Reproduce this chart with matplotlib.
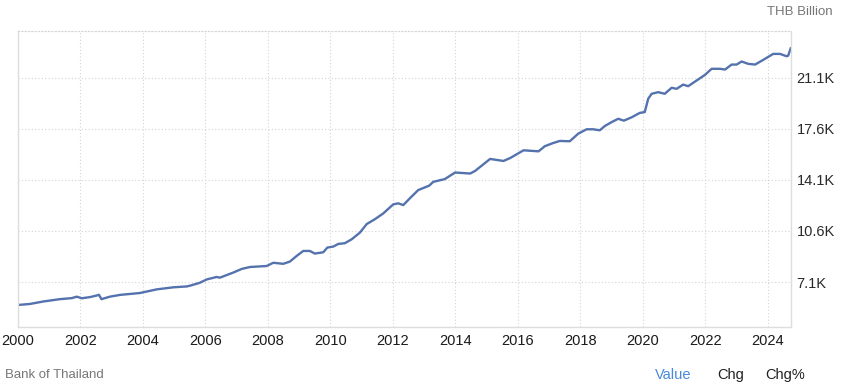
import numpy as np
import matplotlib.pyplot as plt

plt.rcParams['font.family'] = ['Liberation Sans', 'DejaVu Sans']

# values (decimal year, THB billion)
years = [2000.00, 2000.39, 2000.82, 2001.35, 2001.73, 2001.89, 2002.05, 2002.31,
         2002.53, 2002.60, 2002.68, 2002.95, 2003.27, 2003.91, 2004.45, 2004.98,
         2005.41, 2005.51, 2005.83, 2006.05, 2006.37, 2006.47, 2006.90, 2007.17,
         2007.43, 2007.97, 2008.18, 2008.50, 2008.71, 2008.93, 2009.14, 2009.35,
         2009.51, 2009.78, 2009.91, 2010.10, 2010.26, 2010.47, 2010.69, 2010.95,
         2011.17, 2011.43, 2011.70, 2012.02, 2012.18, 2012.34, 2012.55, 2012.82,
         2013.17, 2013.30, 2013.67, 2014.00, 2014.48, 2014.64, 2015.12, 2015.55,
         2015.77, 2016.19, 2016.67, 2016.87, 2017.14, 2017.35, 2017.67, 2017.94,
         2018.21, 2018.42, 2018.63, 2018.79, 2019.01, 2019.22, 2019.40, 2019.65,
         2019.91, 2020.07, 2020.18, 2020.29, 2020.50, 2020.71, 2020.93, 2021.09,
         2021.30, 2021.46, 2022.00, 2022.21, 2022.48, 2022.64, 2022.85, 2023.01,
         2023.17, 2023.38, 2023.60, 2023.86, 2024.18, 2024.40, 2024.61, 2024.66,
         2024.74]
values = [5530, 5600, 5770, 5930, 6000, 6100, 5990, 6070,
          6180, 6230, 5930, 6100, 6220, 6350, 6600, 6740,
          6800, 6850, 7050, 7280, 7450, 7400, 7750, 8000,
          8130, 8200, 8420, 8350, 8500, 8890, 9230, 9230,
          9050, 9140, 9460, 9530, 9710, 9760, 10030, 10480,
          11070, 11400, 11800, 12420, 12490, 12370, 12830, 13400,
          13700, 13960, 14150, 14600, 14530, 14710, 15530, 15390,
          15600, 16120, 16050, 16400, 16620, 16760, 16740, 17260,
          17560, 17560, 17490, 17780, 18050, 18280, 18150, 18380,
          18680, 18740, 19650, 19990, 20100, 19990, 20400, 20330,
          20620, 20510, 21290, 21700, 21700, 21650, 21990, 21990,
          22200, 22040, 21990, 22310, 22720, 22720, 22560, 22600,
          23100]

ytick_vals = [7100, 10600, 14100, 17600, 21100]
ytick_labels = ['7.1K', '10.6K', '14.1K', '17.6K', '21.1K']
xtick_vals = list(range(2000, 2025, 2))

fig = plt.figure(figsize=(8.43, 3.89), dpi=100)
ax = fig.add_axes([0.021, 0.160, 0.9173, 0.760])

ax.plot(years, values, color='#5472ae', lw=1.7, solid_joinstyle='round')

ax.set_xlim(2000, 2024.75)
ax.set_ylim(4040, 24280)

ax.set_xticks(xtick_vals)
ax.set_xticklabels([str(v) for v in xtick_vals])
ax.set_yticks(ytick_vals)
ax.set_yticklabels(ytick_labels)
ax.yaxis.tick_right()
ax.tick_params(axis='x', length=0, pad=5, labelsize=10.5, labelcolor='#1a1a1a')
ax.tick_params(axis='y', length=0, pad=4, labelsize=10.5, labelcolor='#2a2a2a')

ax.grid(True, color='#d4d4d4', linestyle=(0, (1, 2)), linewidth=0.8)
for s in ['left', 'right', 'bottom']:
    ax.spines[s].set_color('#dddddd')
    ax.spines[s].set_linewidth(1.0)
ax.spines['top'].set_color('#d4d4d4')
ax.spines['top'].set_linestyle((0, (1, 2)))
ax.spines['top'].set_linewidth(0.8)

fig.text(833 / 843, 1 - 12 / 389, 'THB Billion', ha='right', va='center',
         fontsize=9.5, color='#777777')
fig.text(5 / 843, 1 - 375 / 389, 'Bank of Thailand', ha='left', va='center',
         fontsize=9.5, color='#777777')
fig.text(655 / 843, 1 - 375 / 389, 'Value', ha='left', va='center',
         fontsize=10.5, color='#4a8ad8')
fig.text(717 / 843, 1 - 375 / 389, 'Chg', ha='left', va='center',
         fontsize=10.5, color='#222222')
fig.text(765 / 843, 1 - 375 / 389, 'Chg%', ha='left', va='center',
         fontsize=10.5, color='#222222')

fig.savefig('out.png', dpi=100)
